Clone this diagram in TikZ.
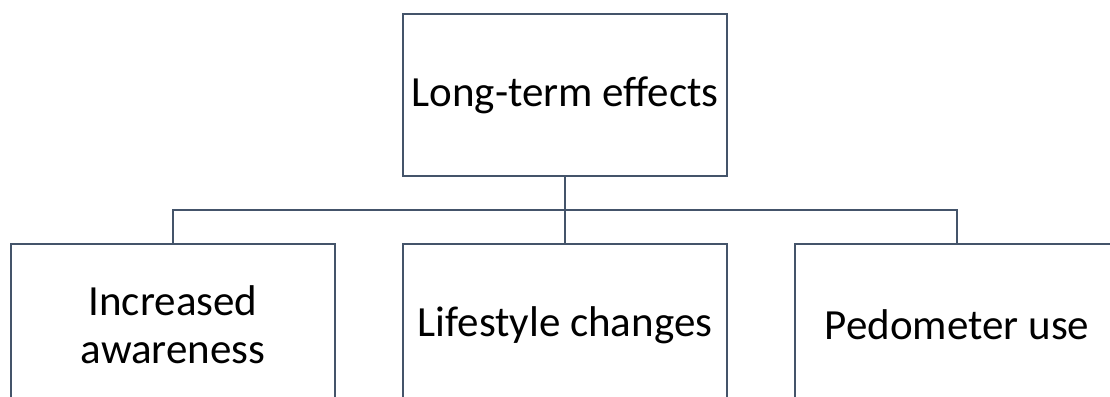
\documentclass[tikz,border=0pt]{standalone}
\usepackage{fontspec}
\setmainfont{Carlito}
\definecolor{boxline}{HTML}{44546A}
\tikzset{effbox/.style={draw=boxline,line width=2.5pt,fill=white,minimum width=324pt,minimum height=162pt,align=center,font=\fontsize{43}{50}\selectfont,inner sep=0pt}}

\begin{document}
\begin{tikzpicture}[line cap=rect,line join=miter,x=1pt,y=-1pt]
		\useasboundingbox (0,0) rectangle (1110,396);
		\clip (0,0) rectangle (1110,396);
		\coordinate (bus) at (565,210);
		\node[effbox] (top) at (565,95) {Long-term effects};
		\node[effbox] (aware) at (173,325) {Increased\\[-2pt]awareness};
		\node[effbox] (life) at (565,325) {Lifestyle changes};
		\node[effbox] (pedo) at (957,325) {Pedometer use};
		\draw [boxline,line width=2.5pt] (top.south)-- (top.south |- bus);
		\draw [boxline,line width=2.5pt] (aware.north) |- (pedo.north |- bus) -- (pedo.north);
		\draw [boxline,line width=2.5pt] (life.north)-- (life.north |- bus);
		\end{tikzpicture}
\end{document}
